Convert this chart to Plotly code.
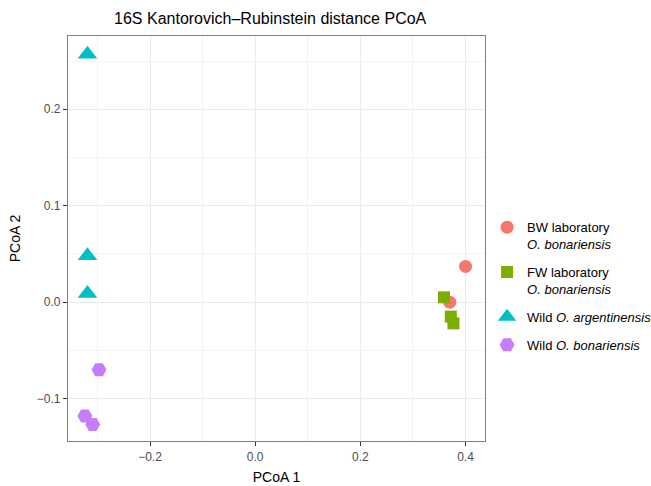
import plotly.graph_objects as go

# group labels (legend text)
groups = [
    "BW laboratory<br><i>O. bonariensis</i>",
    "FW laboratory<br><i>O. bonariensis</i>",
    "Wild <i>O. argentinensis</i>",
    "Wild <i>O. bonariensis</i>",
]

# PCoA coordinates
bw_x = [0.400, 0.370]
bw_y = [0.037, 0.000]
fw_x = [0.359, 0.372, 0.377]
fw_y = [0.005, -0.015, -0.022]
arg_x = [-0.319, -0.319, -0.319]
arg_y = [0.257, 0.048, 0.009]
bon_x = [-0.297, -0.324, -0.309]
bon_y = [-0.070, -0.118, -0.127]

colors = ["#F8766D", "#7CAE00", "#00BFC4", "#C77CFF"]
symbols = ["circle", "square", "triangle-up", "hexagon2"]
sizes = [13, 12, 17, 15]

fig = go.Figure()
for i, (name, xs, ys, col, sym, sz) in enumerate(zip(
    groups,
    [bw_x, fw_x, arg_x, bon_x],
    [bw_y, fw_y, arg_y, bon_y],
    colors, symbols, sizes,
)):
    fig.add_trace(go.Scatter(
        x=xs, y=ys, mode="markers", name=name, legendgroup=f"g{i}",
        marker=dict(color=col, symbol=sym, size=sz, line=dict(width=0)),
    ))

axis_common = dict(
    showgrid=True, gridcolor="#EBEBEB", gridwidth=1,
    zeroline=False, showline=True, linecolor="#7F7F7F", linewidth=1.2,
    mirror=True, ticks="outside", ticklen=4, tickcolor="#333333",
    tickfont=dict(size=12, color="#4D4D4D"), tickformat=".1f",
)

fig.update_layout(
    width=651, height=486,
    margin=dict(l=68, r=166, t=36, b=45, autoexpand=False),
    paper_bgcolor="white", plot_bgcolor="white",
    font=dict(family="Liberation Sans, Arial, sans-serif", color="#000000"),
    title=dict(text="16S Kantorovich\u2013Rubinstein distance PCoA",
               x=0.415, xanchor="center", y=0.962, yanchor="middle",
               font=dict(size=16)),
    xaxis=dict(range=[-0.356, 0.437], dtick=0.2, tick0=0,
               title=dict(text="PCoA 1", font=dict(size=14), standoff=9),
               minor=dict(dtick=0.1, tick0=0, showgrid=True, gridcolor="#F3F3F3"),
               **axis_common),
    yaxis=dict(range=[-0.144, 0.276], dtick=0.1, tick0=0,
               title=dict(text="PCoA 2", font=dict(size=14), standoff=12),
               minor=dict(dtick=0.05, tick0=0, showgrid=True, gridcolor="#F3F3F3"),
               **axis_common),
    legend=dict(x=1.005, y=0.565, xanchor="left", yanchor="top",
                font=dict(size=13), valign="top", tracegroupgap=8,
                itemsizing="trace", itemwidth=30),
)

fig.write_html("out.html", config={"displayModeBar": False},
               post_script="document.body.style.margin='0';")
